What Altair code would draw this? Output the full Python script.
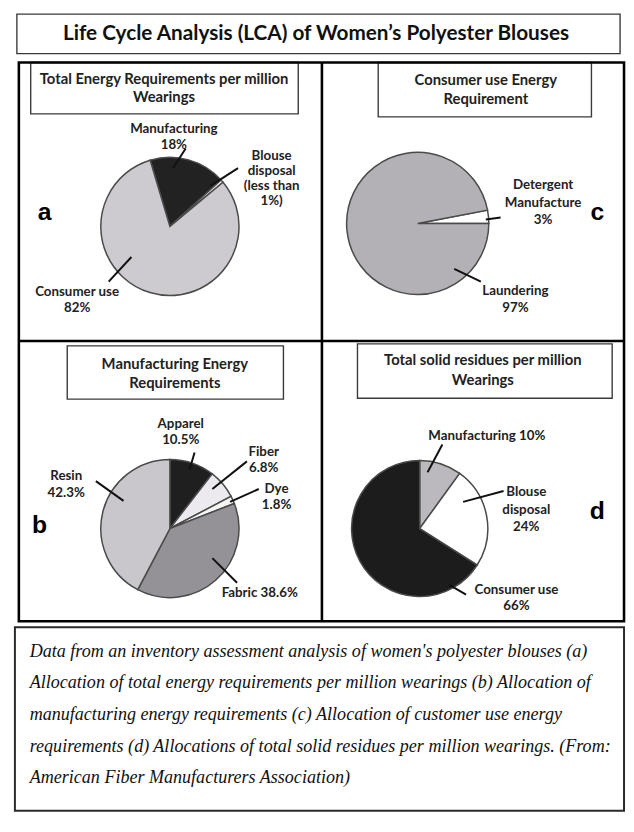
import math
import altair as alt
import pandas as pd

# ---------------- data ----------------
title_text = "Life Cycle Analysis (LCA) of Women’s Polyester Blouses"

a_title = ["Total Energy Requirements per million", "Wearings"]
a_cats = ["Manufacturing", "Blouse disposal", "Consumer use"]
a_vals = [18, 0.7, 82]
a_labels = [["Manufacturing", "18%"], ["Blouse", "disposal", "(less than", "1%)"], ["Consumer use", "82%"]]

c_title = ["Consumer use Energy", "Requirement"]
c_cats = ["Detergent Manufacture", "Laundering"]
c_vals = [3, 97]
c_labels = [["Detergent", "Manufacture", "3%"], ["Laundering", "97%"]]

b_title = ["Manufacturing Energy", "Requirements"]
b_cats = ["Apparel", "Fiber", "Dye", "Fabric", "Resin"]
b_vals = [10.5, 6.8, 1.8, 38.6, 42.3]
b_labels = [["Apparel", "10.5%"], ["Fiber", "6.8%"], ["Dye", "1.8%"], ["Fabric 38.6%"], ["Resin", "42.3%"]]

d_title = ["Total solid residues per million", "Wearings"]
d_cats = ["Manufacturing", "Blouse disposal", "Consumer use"]
d_vals = [10, 24, 66]
d_labels = [["Manufacturing 10%"], ["Blouse", "disposal", "24%"], ["Consumer use", "66%"]]

caption_lines = [
    "Data from an inventory assessment analysis of women's polyester blouses (a)",
    "Allocation of total energy requirements per million wearings (b) Allocation of",
    "manufacturing energy requirements (c) Allocation of customer use energy",
    "requirements (d) Allocations of total solid residues per million wearings. (From:",
    "American Fiber Manufacturers Association)",
]

# ---------------- layout / style ----------------
W, H = 626, 810
X0, Y0 = 8, 8
XS = alt.Scale(domain=[X0, X0 + W], nice=False, zero=False)
YS = alt.Scale(domain=[Y0, Y0 + H], reverse=True, nice=False, zero=False)

panels = [
    dict(cats=a_cats, vals=a_vals, labels=a_labels, title=a_title,
         center=(172, 224), r=70, start=-16.6,
         colors=["#222222", "#eeeeee", "#cdcbd0"],
         tbox=(31, 58, 302, 110), tpos=(166, 75, 18),
         lpos=[(176, 125, 17), (275, 153, 15), (78, 290, 17)],
         lines=[(188, 145, 175, 165), (241, 165, 213, 183), (110, 280, 133, 255)],
         letter=("a", 45, 210)),
    dict(cats=c_cats, vals=c_vals, labels=c_labels, title=c_title,
         center=(423, 221), r=72, start=79.2,
         colors=["#ffffff", "#b3b1b5"],
         tbox=(383, 58, 599, 113), tpos=(492, 76, 19),
         lpos=[(550, 182, 18), (522, 289, 18)],
         lines=[(492, 217, 507, 215), (460, 267, 487, 280)],
         letter=("c", 605, 210)),
    dict(cats=b_cats, vals=b_vals, labels=b_labels, title=b_title,
         center=(172, 530), r=70, start=0,
         colors=["#1f1f1f", "#ece9ef", "#f5f5f5", "#949296", "#c9c7cc"],
         tbox=(68, 345, 287, 399), tpos=(177, 363, 20),
         lpos=[(183, 424, 16), (267, 453, 16), (280, 490, 16), (263, 595, 16), (67, 477, 17)],
         lines=[(197, 453, 192, 470), (250, 462, 215, 490), (262, 490, 233, 503),
                (215, 560, 240, 585), (97, 482, 125, 502)],
         letter=("b", 40, 527)),
    dict(cats=d_cats, vals=d_vals, labels=d_labels, title=d_title,
         center=(425, 530), r=69, start=0,
         colors=["#bbb9bd", "#ffffff", "#1c1c1c"],
         tbox=(362, 343, 620, 398), tpos=(489, 359, 21),
         lpos=[(493, 436, 17), (533, 493, 18), (523, 592, 17)],
         lines=[(448, 445, 433, 473), (510, 492, 469, 503), (472, 597, 455, 587)],
         letter=("d", 605, 512)),
]

FONT = "Lato"

# ---------------- frames / boxes ----------------
thin_boxes = pd.DataFrame(
    [dict(x=17, y=9, x2=628, y2=49)] +
    [dict(x=p["tbox"][0], y=p["tbox"][1], x2=p["tbox"][2], y2=p["tbox"][3]) for p in panels]
)
outer_box = pd.DataFrame([dict(x=19, y=58, x2=632, y2=624)])
caption_box = pd.DataFrame([dict(x=15, y=630, x2=632, y2=816)])
dividers = pd.DataFrame([dict(x=326, y=58, x2=326, y2=624), dict(x=19, y=340, x2=632, y2=340)])


def rect_layer(df, color, width):
    return alt.Chart(df).mark_rect(fillOpacity=0, stroke=color, strokeWidth=width).encode(
        x=alt.X("x:Q", scale=XS, axis=None), x2="x2:Q",
        y=alt.Y("y:Q", scale=YS, axis=None), y2="y2:Q")


def rule_layer(df, color, width):
    return alt.Chart(df).mark_rule(color=color, strokeWidth=width).encode(
        x=alt.X("x:Q", scale=XS, axis=None), x2="x2:Q",
        y=alt.Y("y:Q", scale=YS, axis=None), y2="y2:Q")


def text_layer(df, size, font=FONT, weight="bold", style="normal", align="center", color="#1a1a1a"):
    return alt.Chart(df).mark_text(font=font, fontSize=size, fontWeight=weight, fontStyle=style,
                                   align=align, baseline="middle", color=color).encode(
        x=alt.X("x:Q", scale=XS, axis=None),
        y=alt.Y("y:Q", scale=YS, axis=None),
        text="t:N")


layers = [rect_layer(thin_boxes, "#3a3a3a", 1.4),
          rect_layer(outer_box, "#000000", 2.6),
          rect_layer(caption_box, "#2a2a2a", 2),
          rule_layer(dividers, "#000000", 2.6)]

# ---------------- pies ----------------
for p in panels:
    df = pd.DataFrame({"cat": p["cats"], "value": p["vals"], "idx": list(range(len(p["cats"])))})
    s = math.radians(p["start"])
    cx, cy = p["center"]
    pie = alt.Chart(df).mark_arc(radius=p["r"], stroke="#4a4a4a", strokeWidth=1.5).encode(
        theta=alt.Theta("value:Q", stack=True, scale=alt.Scale(range=[s, s + 2 * math.pi])),
        color=alt.Color("cat:N", scale=alt.Scale(domain=p["cats"], range=p["colors"]), legend=None),
        order=alt.Order("idx:Q"),
        x=alt.value(cx - X0),
        y=alt.value(cy - Y0),
    )
    layers.append(pie)

# ---------------- leader lines ----------------
lead = pd.DataFrame([dict(x=l[0], y=l[1], x2=l[2], y2=l[3]) for p in panels for l in p["lines"]])
layers.append(rule_layer(lead, "#111111", 2))

# ---------------- texts ----------------
title_df = pd.DataFrame([dict(x=320, y=29, t=title_text)])
ptitle_rows, label_rows, letter_rows = [], [], []
for p in panels:
    tx, ty, tlh = p["tpos"]
    for i, line in enumerate(p["title"]):
        ptitle_rows.append(dict(x=tx, y=ty + i * tlh, t=line))
    for lab, (lx, ly, llh) in zip(p["labels"], p["lpos"]):
        for i, line in enumerate(lab):
            label_rows.append(dict(x=lx, y=ly + i * llh, t=line))
    letter_rows.append(dict(x=p["letter"][1], y=p["letter"][2], t=p["letter"][0]))
caption_df = pd.DataFrame([dict(x=30, y=655 + 32 * i, t=line) for i, line in enumerate(caption_lines)])

layers.append(text_layer(title_df, 21, color="#111111"))
layers.append(text_layer(pd.DataFrame(ptitle_rows), 15, color="#222222"))
layers.append(text_layer(pd.DataFrame(label_rows), 13.5, color="#222222"))
layers.append(text_layer(pd.DataFrame(letter_rows), 25, font="Liberation Sans", color="#000000"))
layers.append(text_layer(caption_df, 18.3, font="Liberation Serif", weight="normal", style="italic",
                         align="left", color="#111111"))

chart = alt.layer(*layers).resolve_scale(theta="independent", color="independent").properties(
    width=W, height=H, padding=0, autosize=alt.AutoSizeParams(type="none"), background="white"
).configure_view(strokeWidth=0)

chart.save("out.html", embed_options={"renderer": "svg", "actions": False})
